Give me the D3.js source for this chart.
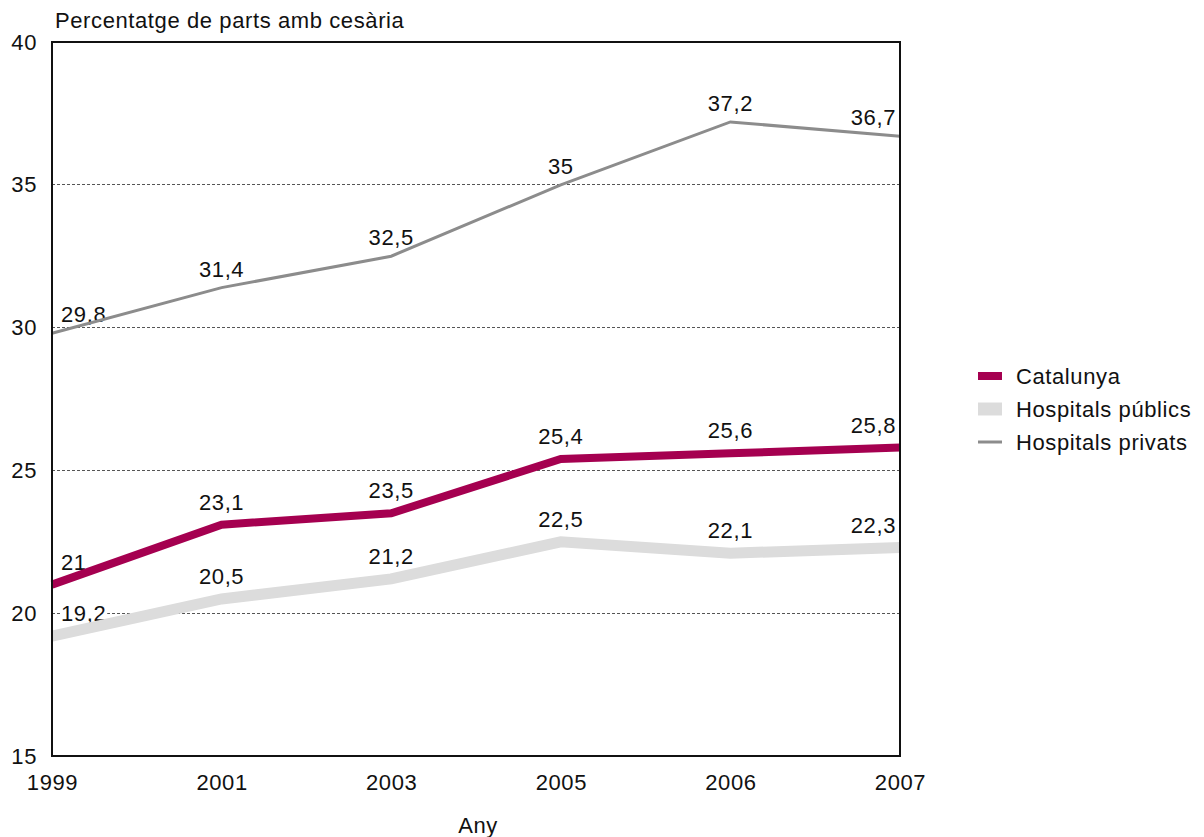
<!DOCTYPE html>
<html><head><meta charset="utf-8">
<script src="https://cdn.jsdelivr.net/npm/d3@7"></script>
<style>body{margin:0;background:#fff}svg{display:block;font-family:"Liberation Sans",Arial,sans-serif}</style>
</head><body><svg id="c" width="1204" height="837"></svg>
<script>
const years = ["1999","2001","2003","2005","2006","2007"];
const catalunya = [21, 23.1, 23.5, 25.4, 25.6, 25.8];
const publics = [19.2, 20.5, 21.2, 22.5, 22.1, 22.3];
const privats = [29.8, 31.4, 32.5, 35, 37.2, 36.7];
const yTicks = [15, 20, 25, 30, 35, 40];
const seriesNames = ["Catalunya", "Hospitals públics", "Hospitals privats"];

const series = [
  {name: seriesNames[0], values: catalunya, color: "#a50050", width: 8},
  {name: seriesNames[1], values: publics, color: "#dcdcdc", width: 11},
  {name: seriesNames[2], values: privats, color: "#8c8c8c", width: 3}
];
const svg = d3.select("#c");
const L = 52, R = 900, T = 42, B = 756;
const x = d3.scalePoint().domain(years).range([L, R]);
const y = d3.scaleLinear().domain([15, 40]).range([B, T]);
const fmt = v => String(v).replace(".", ",");
const FS = 22, LS = "0.6px";
const FF = "Liberation Sans, Arial, sans-serif";

// gridlines
svg.append("g").selectAll("line").data(yTicks.filter(t => t > 15 && t < 40)).join("line")
  .attr("x1", L).attr("x2", R).attr("y1", d => y(d)).attr("y2", d => y(d))
  .attr("stroke", "#555").attr("stroke-width", 1).attr("stroke-dasharray", "3,2")
  .attr("shape-rendering", "crispEdges");

// y axis labels
const yAxis = svg.append("g").attr("transform", `translate(${L},0)`)
  .call(d3.axisLeft(y).tickValues(yTicks).tickSize(0).tickPadding(15));
yAxis.select(".domain").remove();
yAxis.selectAll("text").attr("font-size", FS).attr("font-family", FF).attr("letter-spacing", LS).attr("fill", "#111");

// x axis labels
const xAxis = svg.append("g").attr("transform", `translate(0,${B})`)
  .call(d3.axisBottom(x).tickSize(0).tickPadding(18));
xAxis.select(".domain").remove();
xAxis.selectAll("text").attr("font-size", FS).attr("font-family", FF).attr("letter-spacing", LS).attr("fill", "#111");

// value labels (with white background)
const labelG = svg.append("g");
series.forEach(s => {
  s.values.forEach((v, i) => {
    const px = x(years[i]), py = y(v);
    let anchor = "middle", tx = px;
    if (i === 0) { anchor = "start"; tx = px + 9; }
    if (i === years.length - 1) { anchor = "end"; tx = px - 4; }
    const t = labelG.append("text").attr("x", tx).attr("y", py - (s.width > 5 ? 15 : 11))
      .attr("text-anchor", anchor).attr("font-size", FS).attr("letter-spacing", LS)
      .attr("fill", "#111").text(fmt(v));
    const bb = t.node().getBBox();
    labelG.insert("rect", "text").attr("x", bb.x - 1).attr("y", bb.y + 3).attr("width", bb.width + 2)
      .attr("height", bb.height - 4).attr("fill", "#fff");
  });
});

// lines
const line = d3.line().x((d, i) => x(years[i])).y(d => y(d));
svg.append("g").selectAll("path").data(series).join("path")
  .attr("d", d => line(d.values)).attr("fill", "none")
  .attr("stroke", d => d.color).attr("stroke-width", d => d.width)
  .attr("stroke-linejoin", "miter");

// frame
svg.append("rect").attr("x", L).attr("y", T).attr("width", R - L).attr("height", B - T)
  .attr("fill", "none").attr("stroke", "#111").attr("stroke-width", 2);

// title
svg.append("text").attr("x", 55).attr("y", 28).attr("font-size", FS).attr("letter-spacing", LS).attr("fill", "#111")
  .text("Percentatge de parts amb cesària");
svg.append("text").attr("x", 478).attr("y", 833).attr("text-anchor", "middle")
  .attr("font-size", FS).attr("letter-spacing", LS).attr("fill", "#111").text("Any");

// legend
const lg = svg.append("g");
series.forEach((s, i) => {
  const cy = 376 + i * 33;
  lg.append("line").attr("x1", 978).attr("x2", 1002).attr("y1", cy).attr("y2", cy)
    .attr("stroke", s.color).attr("stroke-width", i === 1 ? 13 : (i === 0 ? 8 : 3));
  lg.append("text").attr("x", 1016).attr("y", cy + 8).attr("font-size", FS).attr("letter-spacing", LS)
    .attr("fill", "#111").text(s.name);
});
</script></body></html>
